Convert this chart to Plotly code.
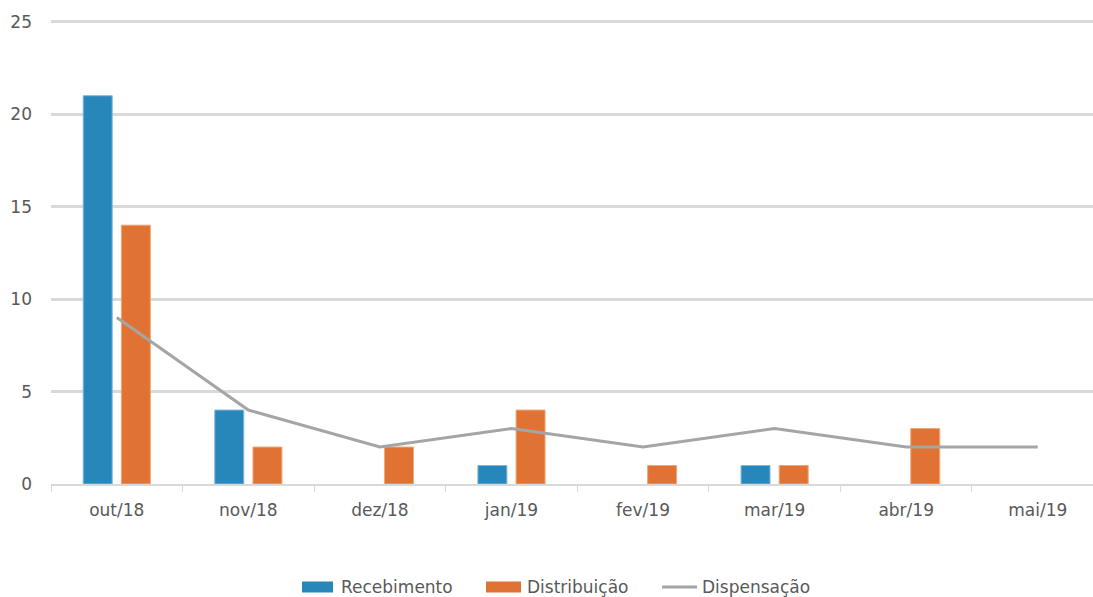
import plotly.graph_objects as go

meses = ["out/18", "nov/18", "dez/18", "jan/19", "fev/19", "mar/19", "abr/19", "mai/19"]
recebimento = [21, 4, None, 1, None, 1, None, None]
distribuicao = [14, 2, 2, 4, 1, 1, 3, None]
dispensacao = [9, 4, 2, 3, 2, 3, 2, 2]

AZUL = "#2787BA"
LARANJA = "#E07334"
CINZA = "#A5A5A5"
TEXTO = "#595959"
GRADE = "#D9D9D9"
FONTE = "DejaVu Sans"
TAM = 17

W, H = 1093, 597
ML, MR, MT, MB = 51, 0, 19, 113


def px_x(px):
    return (px - ML) / (W - ML - MR)


def px_y(py):
    return (H - MB - py) / (H - MT - MB)


fig = go.Figure()
fig.add_trace(go.Bar(
    x=meses, y=recebimento, name="Recebimento",
    marker=dict(color=AZUL, line=dict(color="#7FB8DA", width=1)),
))
fig.add_trace(go.Bar(
    x=meses, y=distribuicao, name="Distribuição",
    marker=dict(color=LARANJA, line=dict(color="#F0A878", width=1)),
))
fig.add_trace(go.Scatter(
    x=meses, y=dispensacao, name="Dispensação", mode="lines",
    line=dict(color=CINZA, width=3),
))

# Legend drawn below the plot: swatch + label for each series
legenda = [
    ("rect", AZUL, 302, 333, 339, "Recebimento"),
    ("rect", LARANJA, 486, 521, 525, "Distribuição"),
    ("line", CINZA, 662, 697, 700, "Dispensação"),
]
ly = 587
shapes = []
annotations = []
for kind, cor, x0, x1, xt, texto in legenda:
    if kind == "rect":
        shapes.append(dict(type="rect", xref="paper", yref="paper",
                           x0=px_x(x0), x1=px_x(x1), y0=px_y(ly + 5.5), y1=px_y(ly - 5.5),
                           fillcolor=cor, line=dict(width=0)))
    else:
        shapes.append(dict(type="line", xref="paper", yref="paper",
                           x0=px_x(x0), x1=px_x(x1), y0=px_y(ly), y1=px_y(ly),
                           line=dict(color=cor, width=3)))
    annotations.append(dict(text=texto, xref="paper", yref="paper",
                            x=px_x(xt), y=px_y(ly), xanchor="left", yanchor="middle",
                            showarrow=False, font=dict(family=FONTE, size=TAM, color=TEXTO)))

fig.update_layout(
    width=W, height=H,
    margin=dict(l=ML, r=MR, t=MT, b=MB),
    paper_bgcolor="white", plot_bgcolor="white",
    barmode="group", bargap=0.42, bargroupgap=0.24,
    font=dict(family=FONTE, size=TAM, color=TEXTO),
    showlegend=False,
    shapes=shapes,
    annotations=annotations,
)
fig.update_xaxes(
    type="category", range=[-0.5, 7.42],
    showgrid=False, showline=True, linecolor=GRADE, linewidth=1.5,
    ticks="outside", tickson="boundaries", ticklen=6, tickcolor=GRADE,
    ticklabelstandoff=10,
    tickfont=dict(family=FONTE, size=TAM, color=TEXTO),
)
fig.update_yaxes(
    range=[0, 25.15], tickvals=[0, 5, 10, 15, 20, 25],
    showgrid=True, gridcolor=GRADE, gridwidth=3,
    zeroline=False, showline=False, ticks="",
    ticklabelstandoff=18,
    tickfont=dict(family=FONTE, size=TAM, color=TEXTO),
)

fig.write_html("out.html")
